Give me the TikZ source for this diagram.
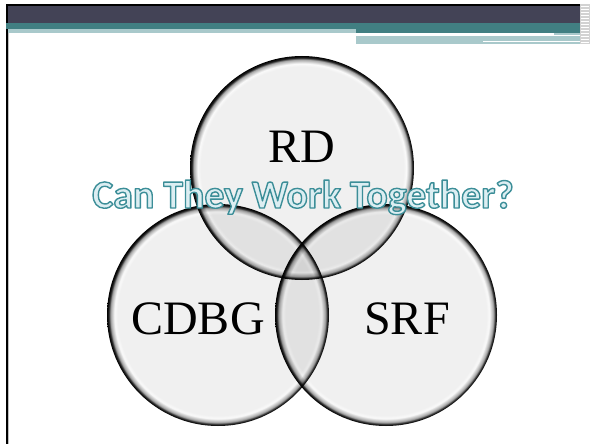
\documentclass[tikz,border=0pt]{standalone}
\usepackage{fontspec}
\setmainfont{Liberation Serif}
\newfontfamily\titlefont{Carlito}
\definecolor{bardark}{HTML}{434356}
\definecolor{barteal}{HTML}{417F82}
\definecolor{barlight}{HTML}{A9C9CB}
\definecolor{titleline}{HTML}{3C8E98}
\definecolor{titlefill}{HTML}{DCEEF2}
\newcommand{\outlinedtext}[1]{{\color{titlefill}\special{pdf:literal direct 0.235 0.557 0.596 RG 1.4 w 1 j 2 Tr}#1\special{pdf:literal direct 0 Tr}}}
\pgfdeclareradialshading{glass}{\pgfpoint{0bp}{0bp}}{rgb(0bp)=(.94,.94,.94); rgb(22.6bp)=(.94,.94,.94); rgb(23.3bp)=(.98,.98,.98); rgb(24.2bp)=(.65,.65,.65); rgb(24.6bp)=(.15,.15,.15); rgb(25bp)=(0,0,0); rgb(50bp)=(0,0,0)}
\tikzset{
  vlabel/.style={font=\fontsize{48}{48}\selectfont, anchor=base, text=black},
  venn/.style={shading=glass},
}
\begin{document}
\begin{tikzpicture}[x=1pt,y=-1pt]
\fill[white] (0,0) rectangle (594,444);
\useasboundingbox (0,0) rectangle (594,444);
% header bars
\fill[black] (6,4) rectangle (580,6);
\fill[black] (6,4) rectangle (8,444);
\fill[gray!50] (8,33) rectangle (9,444);
\fill[bardark] (8,6) rectangle (580,23);
\fill[barteal] (6,23) rectangle (580,29);
\fill[barlight] (8,29) rectangle (356,33);
\fill[barteal] (356,29) rectangle (580,33);
\fill[barlight] (554,33) rectangle (580,35);
\fill[barlight] (356,36) rectangle (580,44);
\fill[white] (483,41.5) rectangle (580,42.5);
\fill[gray!35] (580,4) rectangle (590,44);
\foreach \yy in {6,9,...,42} {\fill[white] (581,\yy) rectangle (589,\yy+1);}
% circles
\begin{scope}[blend group=multiply]
\shade[venn] (302,168) circle (112);
\shade[venn] (218,315) circle (111);
\shade[venn] (386,315) circle (111);
\end{scope}
% labels
\node[vlabel] (rd) at (302,162) {RD};
\node[vlabel] (cdbg) at (198,334) {CDBG};
\node[vlabel] (srf) at (407,334) {SRF};
\node[anchor=base] (title) at (303,208) {\titlefont\bfseries\fontsize{39.8}{40}\selectfont\outlinedtext{Can They Work Together?}};
\end{tikzpicture}
\end{document}
